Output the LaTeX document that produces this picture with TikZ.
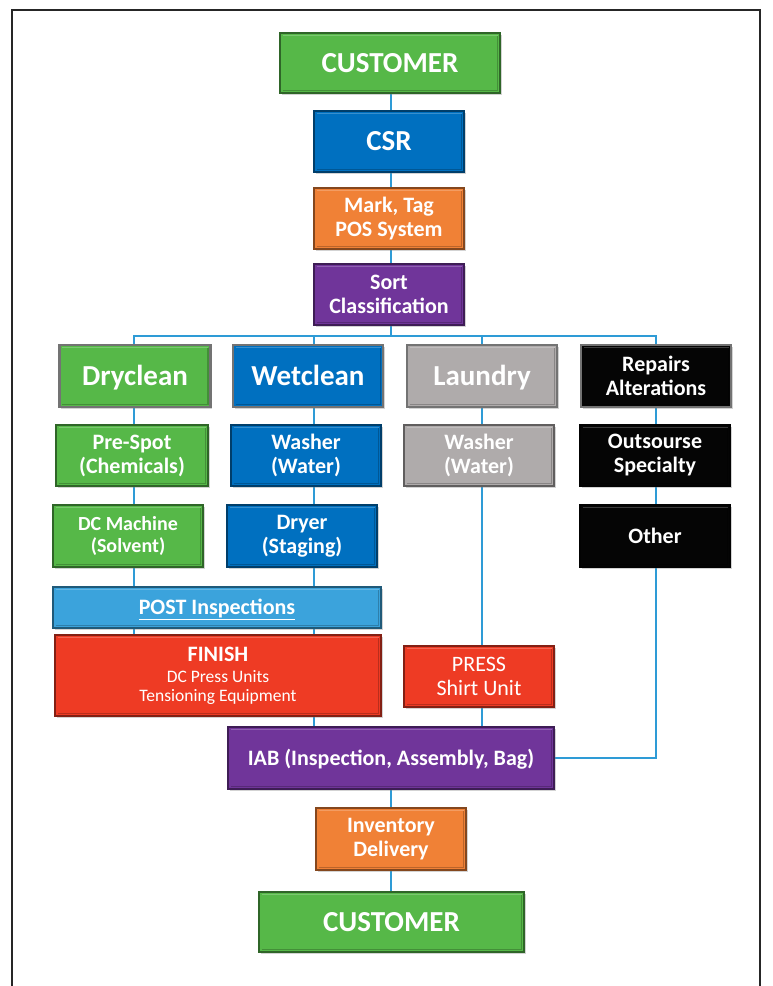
\documentclass[tikz,border=0pt]{standalone}
\usepackage{fontspec}
\setmainfont{Carlito}
\usetikzlibrary{shadows,backgrounds}
\definecolor{cgreen}{HTML}{56B848}
\definecolor{cblue}{HTML}{0070C0}
\definecolor{corange}{HTML}{F08136}
\definecolor{cpurple}{HTML}{70359A}
\definecolor{cgray}{HTML}{AFABAB}
\definecolor{cblack}{HTML}{050505}
\definecolor{clblue}{HTML}{3BA3DC}
\definecolor{cred}{HTML}{EE3B24}
\definecolor{cline}{HTML}{2E9BD6}
\tikzset{
  box/.style={fill=#1, draw=#1!55!black, line width=1.2pt, text=white,
    align=center, inner sep=0pt, font=\bfseries\fontsize{22}{24}\selectfont,
    drop shadow={shadow xshift=1.5pt, shadow yshift=-1.5pt, opacity=0.35},
    path picture={
      \draw[white, opacity=0.22, line width=1.5pt]
        ([shift={(2.5pt,-2.5pt)}]path picture bounding box.north west) --
        ([shift={(-2.5pt,-2.5pt)}]path picture bounding box.north east);
      \draw[black, opacity=0.22, line width=1.5pt]
        ([shift={(2.5pt,2.5pt)}]path picture bounding box.south west) --
        ([shift={(-2.5pt,2.5pt)}]path picture bounding box.south east) --
        ([shift={(-2.5pt,-2.5pt)}]path picture bounding box.north east);
    }},
  catbox/.style={box=#1, draw=black!55, line width=2.2pt,
    font=\bfseries\fontsize{29}{30}\selectfont},
  big/.style={text height=18.7pt, text depth=0pt},
  mid/.style={text height=14.2pt, text depth=0pt},
  conn/.style={draw=cline, line width=2pt},
  frame/.style={draw=black!85, line width=2pt}
}
\begin{document}
\begin{tikzpicture}[x=1pt,y=-1pt]
\useasboundingbox (0,0) rectangle (772,986);
\draw[frame] (12,990) -- (12,10) -- (760,10) -- (760,990);

% top column
\node[box=cgreen, big, minimum width=220pt, minimum height=60pt, font=\bfseries\fontsize{29}{30}\selectfont] (cust1) at (390,63) {CUSTOMER};
\node[box=cblue, big, minimum width=150pt, minimum height=61pt, font=\bfseries\fontsize{29}{30}\selectfont] (csr) at (389,141.5) {CSR};
\node[box=corange, minimum width=150pt, minimum height=61pt] (mark) at (389,218.5) {Mark, Tag\\POS System};
\node[box=cpurple, minimum width=150pt, minimum height=61pt] (sort) at (389,294.5) {Sort\\Classification};

% categories
\node[catbox=cgreen, big, minimum width=151pt, minimum height=62pt] (dry) at (135,376) {Dryclean};
\node[catbox=cblue, big, minimum width=150pt, minimum height=62pt] (wet) at (308,376) {Wetclean};
\node[catbox=cgray, big, minimum width=150pt, minimum height=62pt] (laun) at (482,376) {Laundry};
\node[box=cblack, draw=black!55, line width=2.2pt, minimum width=150pt, minimum height=62pt] (rep) at (656,376) {Repairs\\Alterations};

% second row
\node[box=cgreen, minimum width=152pt, minimum height=61pt] (prespot) at (132,455.5) {Pre-Spot\\(Chemicals)};
\node[box=cblue, minimum width=150pt, minimum height=61pt] (washw) at (306,455.5) {Washer\\(Water)};
\node[box=cgray, minimum width=150pt, minimum height=61pt] (washl) at (479,455.5) {Washer\\(Water)};
\node[box=cblack, minimum width=150pt, minimum height=61pt] (outs) at (655,455.5) {Outsourse\\Specialty};

% third row
\node[box=cgreen, minimum width=150pt, minimum height=62pt, font=\bfseries\fontsize{20}{22}\selectfont] (dcm) at (128,536) {DC Machine\\(Solvent)};
\node[box=cblue, minimum width=150pt, minimum height=62pt] (dryer) at (302,536) {Dryer\\(Staging)};
\node[box=cblack, mid, minimum width=150pt, minimum height=62pt] (other) at (655,536) {Other};

% post / finish / press
\node[box=clblue, mid, minimum width=328pt, minimum height=41pt] (post) at (217,607.5) {\underline{POST Inspections}};
\node[box=cred, minimum width=326pt, minimum height=81pt, font=\fontsize{17.5}{19}\selectfont] (finish) at (218,675.5) {{\bfseries\fontsize{22}{24}\selectfont FINISH}\\[2pt]DC Press Units\\Tensioning Equipment};
\node[box=cred, minimum width=150pt, minimum height=61pt, font=\fontsize{22}{24}\selectfont] (press) at (479,676.5) {PRESS\\Shirt Unit};

% bottom
\node[box=cpurple, mid, minimum width=326pt, minimum height=62pt] (iab) at (391,758) {IAB (Inspection, Assembly, Bag)};
\node[box=corange, minimum width=150pt, minimum height=62pt] (inv) at (391,839) {Inventory\\Delivery};
\node[box=cgreen, big, minimum width=265pt, minimum height=60pt, font=\bfseries\fontsize{29}{30}\selectfont] (cust2) at (391.5,922) {CUSTOMER};

% connectors
\coordinate (bus) at (391,336);
\coordinate (c1) at (134,0);
\coordinate (c2) at (314,0);
\coordinate (c3) at (482,0);
\coordinate (c4) at (656,0);
\coordinate (cm) at (391,0);
\begin{pgfonlayer}{background}
\draw[conn] (cm |- cust1.south) -- (cm |- sort.south) -- (bus);
\draw[conn] (c1 |- dry.north) -- (c1 |- bus) -- (c4 |- bus) -- (c4 |- rep.north);
\draw[conn] (c1 |- bus) -- (c1 |- finish.north);
\draw[conn] (c2 |- bus) -- (c2 |- iab.north);
\draw[conn] (c3 |- bus) -- (c3 |- iab.north);
\draw[conn] (c4 |- bus) -- (c4 |- iab.east) -- (iab.east);
\draw[conn] (cm |- iab.south) -- (cm |- cust2.north);
\end{pgfonlayer}
\end{tikzpicture}
\end{document}
